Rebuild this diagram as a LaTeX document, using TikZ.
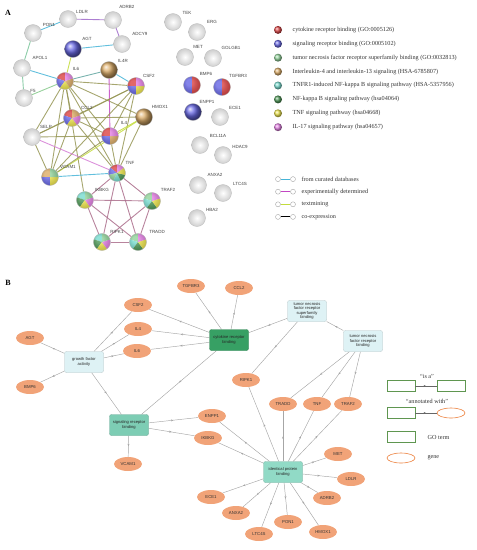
\documentclass[tikz,border=0pt]{standalone}
\usepackage{fontspec}
\setmainfont{Liberation Serif}
\setsansfont{Liberation Sans}
\usetikzlibrary{shapes.geometric,arrows.meta,backgrounds,decorations.markings}
\definecolor{gored}{RGB}{214,40,40}
\definecolor{goblue}{RGB}{80,80,225}
\definecolor{golgreen}{RGB}{130,205,140}
\definecolor{gotan}{RGB}{215,160,80}
\definecolor{gocyan}{RGB}{100,215,200}
\definecolor{godgreen}{RGB}{50,135,60}
\definecolor{goyellow}{RGB}{235,225,50}
\definecolor{gopink}{RGB}{225,110,225}
\definecolor{evcur}{RGB}{70,180,215}
\definecolor{evexp}{RGB}{195,70,195}
\definecolor{evtxt}{RGB}{195,220,60}
\definecolor{evolive}{RGB}{150,150,85}
\definecolor{genefill}{RGB}{241,163,120}
\definecolor{geneline}{RGB}{236,128,60}
\definecolor{termlight}{RGB}{222,242,245}
\definecolor{termdark}{RGB}{55,160,100}
\definecolor{termteal}{RGB}{125,205,180}
\definecolor{termmint}{RGB}{145,218,198}
\definecolor{legbox}{RGB}{95,150,80}

\tikzset{
  sph/.style={circle, minimum size=17pt, inner sep=0pt},
  gball/.style={sph, shading=radial, inner color=white, outer color=gray!38, draw=gray!55, line width=0.3pt},
  cball/.style={sph, shading=ball, ball color=#1!85!white, draw=gray!60, line width=0.3pt},
  slbl/.style={font=\sffamily\fontsize{4.5}{5}\selectfont, text=black!75},
  sedge/.style={line width=0.9pt, draw=#1, opacity=0.85},
  gene/.style={ellipse, fill=genefill, minimum width=28pt, minimum height=14pt, inner sep=0pt,
    font=\sffamily\fontsize{4.3}{5}\selectfont, text=black!80},
  term/.style={rectangle, rounded corners=2pt, fill=#1, draw=#1!80!black, line width=0.3pt,
    minimum width=39pt, minimum height=21pt, inner sep=0pt, align=center,
    font=\sffamily\fontsize{4.1}{4.6}\selectfont, text=black!85},
  gline/.style={draw=gray!70, line width=0.45pt},
  midarr/.style={postaction={decorate}, decoration={markings,
    mark=at position 0.5 with {\arrow{Stealth[length=2.4pt,width=2pt]}}}},
  legtxt/.style={anchor=west, font=\fontsize{6.2}{7}\selectfont, text=black!80},
  lbox/.style={rectangle, draw=legbox, line width=0.6pt, fill=white, minimum width=28pt, minimum height=11pt, inner sep=0pt},
  lell/.style={ellipse, draw=geneline, line width=0.6pt, fill=white, minimum width=28pt, minimum height=10pt, inner sep=0pt}
}

% coloured STRING sphere: name, position, number of colours, colours
\newcommand{\pieball}[4]{%
  \node[sph] (#1) at (#2) {};
  \foreach \c [count=\i] in {#4} {
    \pgfmathsetmacro{\angA}{90+360*(\i-1)/#3}
    \pgfmathsetmacro{\angB}{90+360*\i/#3}
    \fill[\c] (#1.center) -- ++(\angA:8.5pt) arc[start angle=\angA, end angle=\angB, radius=8.5pt] -- cycle;
  }
  \shade[ball color=white, opacity=0.3] (#1.center) circle (8.5pt);
  \draw[gray!60, line width=0.3pt] (#1.center) circle (8.5pt);
}

\begin{document}
\begin{tikzpicture}[x=1pt, y=-1pt]
\useasboundingbox (0,0) rectangle (477,550);

% Panel labels
\node[font=\bfseries\fontsize{8}{9}\selectfont] (pa) at (8,13) {A};
\node[font=\bfseries\fontsize{8}{9}\selectfont] (pb) at (8,283) {B};

% ---------------- A: STRING network ----------------
\node[gball] (pon1) at (33,33) {};
\node[gball] (ldlr) at (68,19) {};
\node[gball] (adrb2) at (113,20) {};
\node[gball] (adcy9) at (122,44) {};
\node[cball=goblue] (agt) at (73,49) {};
\node[gball] (apol1) at (22,68) {};
\pieball{il6}{65,81}{5}{gored,goblue,goyellow,gotan,gopink}
\node[cball=gotan] (il4r) at (109,70) {};
\pieball{csf2}{136,86}{4}{gored,goblue,goyellow,gopink}
\node[gball] (f5) at (24,98) {};
\pieball{ccl2}{72,118}{5}{gored,goblue,goyellow,gopink,gotan}
\node[cball=gotan] (hmox1) at (144,117) {};
\node[gball] (selp) at (32,137) {};
\pieball{il4}{110,136}{4}{gored,goblue,gotan,gopink}
\pieball{vcam1}{50,177}{4}{gotan,goblue,goyellow,golgreen}
\pieball{tnf}{117,173}{7}{gored,goblue,golgreen,gocyan,godgreen,goyellow,gopink}
\pieball{ikbkg}{85,200}{5}{gocyan,godgreen,goyellow,gopink,golgreen}
\pieball{traf2}{152,201}{5}{golgreen,gocyan,godgreen,goyellow,gopink}
\pieball{ripk1}{102,242}{5}{gocyan,godgreen,goyellow,gopink,golgreen}
\pieball{tradd}{138,242}{5}{golgreen,gocyan,godgreen,goyellow,gopink}

% isolated proteins
\node[gball] (tek) at (173,22) {};
\node[gball] (erg) at (197,32) {};
\node[gball] (met) at (185,57) {};
\node[gball] (golgb1) at (213,58) {};
\pieball{bmp6}{192,85}{2}{goblue,gored}
\pieball{tgfbr3}{222,87}{2}{goblue,gored}
\node[cball=goblue] (enpp1) at (193,112) {};
\node[gball] (ece1) at (220,117) {};
\node[gball] (bcl11a) at (200,145) {};
\node[gball] (hdac9) at (223,155) {};
\node[gball] (anxa2) at (198,185) {};
\node[gball] (ltc4s) at (223,193) {};
\node[gball] (hba2) at (197,218) {};

% sphere labels
\node[slbl] (pon1-t) at (49,25) {PON1};
\node[slbl] (ldlr-t) at (82,12) {LDLR};
\node[slbl] (adrb2-t) at (127,7) {ADRB2};
\node[slbl] (adcy9-t) at (140,34) {ADCY9};
\node[slbl] (agt-t) at (87,39) {AGT};
\node[slbl] (apol1-t) at (40,58) {APOL1};
\node[slbl] (il6-t) at (76,69) {IL6};
\node[slbl] (il4r-t) at (123,61) {IL4R};
\node[slbl] (csf2-t) at (149,76) {CSF2};
\node[slbl] (f5-t) at (33,91) {F5};
\node[slbl] (ccl2-t) at (87,108) {CCL2};
\node[slbl] (hmox1-t) at (160,107) {HMOX1};
\node[slbl] (selp-t) at (46,127) {SELP};
\node[slbl] (il4-t) at (124,123) {IL4};
\node[slbl] (vcam1-t) at (68,167) {VCAM1};
\node[slbl] (tnf-t) at (130,163) {TNF};
\node[slbl] (ikbkg-t) at (102,190) {IKBKG};
\node[slbl] (traf2-t) at (168,190) {TRAF2};
\node[slbl] (ripk1-t) at (117,232) {RIPK1};
\node[slbl] (tradd-t) at (157,232) {TRADD};
\node[slbl] (tek-t) at (187,13) {TEK};
\node[slbl] (erg-t) at (212,22) {ERG};
\node[slbl] (met-t) at (198,47) {MET};
\node[slbl] (golgb1-t) at (231,48) {GOLGB1};
\node[slbl] (bmp6-t) at (206,74) {BMP6};
\node[slbl] (tgfbr3-t) at (238,76) {TGFBR3};
\node[slbl] (enpp1-t) at (207,102) {ENPP1};
\node[slbl] (ece1-t) at (235,108) {ECE1};
\node[slbl] (bcl11a-t) at (218,136) {BCL11A};
\node[slbl] (hdac9-t) at (240,147) {HDAC9};
\node[slbl] (anxa2-t) at (215,175) {ANXA2};
\node[slbl] (ltc4s-t) at (240,184) {LTC4S};
\node[slbl] (hba2-t) at (212,210) {HBA2};

% interactions
\begin{scope}[on background layer]
\draw[sedge=evcur] (pon1) -- (ldlr);
\draw[sedge=evcur!60!evtxt] (pon1) -- (apol1);
\draw[sedge=evexp!70!evcur] (ldlr) -- (adrb2);
\draw[sedge=evexp!70!evcur] (adrb2) -- (adcy9);
\draw[sedge=evcur] (agt) -- (adcy9);
\draw[sedge=evtxt] (agt) -- (il6);
\draw[sedge=evcur!60!evtxt] (apol1) -- (f5);
\draw[sedge=evcur] (apol1) -- (il6);
\draw[sedge=evcur!50!evtxt] (il6) -- (f5);
\draw[sedge=evcur!60!evolive] (il6) -- (il4r);
\foreach \t in {csf2,ccl2,hmox1,il4,selp,vcam1,tnf,ikbkg}
  \draw[sedge=evolive] (il6) -- (\t);
\draw[sedge=evexp] (il4r) -- (il4);
\draw[sedge=evcur] (il4r) -- (csf2);
\foreach \t in {ccl2,il4,tnf,selp,vcam1}
  \draw[sedge=evolive] (csf2) -- (\t);
\foreach \t in {hmox1,il4,selp,vcam1,tnf}
  \draw[sedge=evolive] (ccl2) -- (\t);
\draw[sedge=evtxt] (hmox1) -- (il4);
\draw[sedge=evolive] (hmox1) -- (tnf);
\draw[sedge=evtxt] (hmox1) -- (vcam1);
\draw[sedge=evolive] (selp) -- (il4);
\draw[sedge=evolive] (selp) -- (vcam1);
\draw[sedge=evexp!70!white] (selp) -- (tnf);
\draw[sedge=evolive] (il4) -- (tnf);
\draw[sedge=evolive] (il4) -- (vcam1);
\draw[sedge=evcur] (vcam1) -- (tnf);
\foreach \t in {ikbkg,traf2,ripk1,tradd}
  \draw[sedge=evexp!50!evolive] (tnf) -- (\t);
\draw[sedge=evexp!50!evolive] (ikbkg) -- (traf2);
\draw[sedge=evexp!50!evolive] (ikbkg) -- (ripk1);
\draw[sedge=evexp!50!evolive] (ikbkg) -- (tradd);
\draw[sedge=evexp!50!evolive] (traf2) -- (ripk1);
\draw[sedge=evexp!50!evolive] (traf2) -- (tradd);
\draw[sedge=evexp!50!evolive] (ripk1) -- (tradd);
\end{scope}

% legend: functional enrichment colours
\foreach \col/\txt [count=\i] in {
  gored/{cytokine receptor binding (GO:0005126)},
  goblue/{signaling receptor binding (GO:0005102)},
  golgreen/{tumor necrosis factor receptor superfamily binding (GO:0032813)},
  gotan/{Interleukin-4 and interleukin-13 signaling (HSA-6785807)},
  gocyan/{TNFR1-induced NF-kappa B signaling pathway (HSA-5357956)},
  godgreen/{NF-kappa B signaling pathway (hsa04064)},
  goyellow/{TNF signaling pathway (hsa04668)},
  gopink/{IL-17 signaling pathway (hsa04657)}} {
  \node[circle, minimum size=8pt, inner sep=0pt, shading=ball, ball color=\col!85!white] (dot\i) at (278,{16+13.9*\i}) {};
  \node[legtxt] (dtxt\i) at (289,{16+13.9*\i}) {\txt};
}

% legend: evidence lines
\foreach \col/\txt [count=\i] in {
  evcur/{from curated databases},
  evexp/{experimentally determined},
  evtxt/{textmining},
  black/{co-expression}} {
  \node[circle, draw=gray!70, fill=white, minimum size=5pt, inner sep=0pt, line width=0.4pt] (ea\i) at (278,{166.5+12.6*\i}) {};
  \node[circle, draw=gray!70, fill=white, minimum size=5pt, inner sep=0pt, line width=0.4pt] (eb\i) at (293,{166.5+12.6*\i}) {};
  \draw[\col, line width=0.9pt] (ea\i) -- (eb\i);
  \node[legtxt] (etxt\i) at (298,{166.5+12.6*\i}) {\txt};
}

% ---------------- B: GO term network ----------------
\node[term=termlight] (t-gfa) at (84,362) {growth factor\\activity};
\node[term=termdark] (t-crb) at (229,340) {cytokine receptor\\binding};
\node[term=termlight] (t-tnfsf) at (307,311) {tumor necrosis\\factor receptor\\superfamily\\binding};
\node[term=termlight] (t-tnfr) at (363,341) {tumor necrosis\\factor receptor\\binding};
\node[term=termteal] (t-srb) at (129,425) {signaling receptor\\binding};
\node[term=termmint] (t-ipb) at (283,472) {identical protein\\binding};

\node[gene] (g-tgfbr3) at (191,286) {TGFBR3};
\node[gene] (g-ccl2) at (239,288) {CCL2};
\node[gene] (g-csf2) at (138,305) {CSF2};
\node[gene] (g-il4) at (138,329) {IL4};
\node[gene] (g-il6) at (137,351) {IL6};
\node[gene] (g-agt) at (30,338) {AGT};
\node[gene] (g-bmp6) at (30,387) {BMP6};
\node[gene] (g-ripk1) at (246,380) {RIPK1};
\node[gene] (g-tradd) at (283,404) {TRADD};
\node[gene] (g-tnf) at (317,404) {TNF};
\node[gene] (g-traf2) at (348,404) {TRAF2};
\node[gene] (g-enpp1) at (212,416) {ENPP1};
\node[gene] (g-ikbkg) at (208,438) {IKBKG};
\node[gene] (g-vcam1) at (128,464) {VCAM1};
\node[gene] (g-met) at (338,454) {MET};
\node[gene] (g-ldlr) at (351,479) {LDLR};
\node[gene] (g-adrb2) at (327,498) {ADRB2};
\node[gene] (g-ece1) at (211,497) {ECE1};
\node[gene] (g-anxa2) at (236,513) {ANXA2};
\node[gene] (g-pon1) at (288,522) {PON1};
\node[gene] (g-ltc4s) at (259,534) {LTC4S};
\node[gene] (g-hmox1) at (323,532) {HMOX1};

\begin{scope}[on background layer]
% is a
\draw[gline, midarr] (t-crb) -- (t-srb);
\draw[gline, midarr] (t-gfa) -- (t-srb);
\draw[gline, midarr] (t-tnfsf) -- (t-crb);
\draw[gline, midarr] (t-tnfr) -- (t-tnfsf);
% annotated with
\foreach \g in {agt,bmp6,csf2,il4,il6}
  \draw[gline, midarr] (t-gfa) -- (g-\g);
\foreach \g in {tgfbr3,ccl2,csf2,il4,il6}
  \draw[gline, midarr] (t-crb) -- (g-\g);
\draw[gline, midarr] (t-tnfsf) -- (g-ripk1);
\foreach \g in {tradd,tnf,traf2}
  \draw[gline, midarr] (t-tnfr) -- (g-\g);
\foreach \g in {enpp1,ikbkg,vcam1}
  \draw[gline, midarr] (t-srb) -- (g-\g);
\foreach \g in {ripk1,tradd,tnf,traf2,enpp1,ikbkg,met,ldlr,adrb2,ece1,anxa2,pon1,ltc4s,hmox1}
  \draw[gline, midarr] (t-ipb) -- (g-\g);
\end{scope}

% legend B
\node[legtxt, anchor=center] (isa-t) at (427,376) {“is a”};
\node[lbox] (isa-a) at (401,386) {};
\node[lbox] (isa-b) at (451,386) {};
\draw[draw=black!60, line width=1pt, midarr] (isa-a) -- (isa-b);
\node[legtxt, anchor=center] (ann-t) at (427,401) {“annotated with”};
\node[lbox] (ann-a) at (401,413) {};
\node[lell] (ann-b) at (451,413) {};
\draw[draw=black!60, line width=1pt, midarr] (ann-a) -- (ann-b);
\node[lbox] (go-box) at (401,437) {};
\node[legtxt] (go-t) at (424,437) {GO term};
\node[lell] (gene-ell) at (401,458) {};
\node[legtxt] (gene-t) at (424,458) {gene};

\end{tikzpicture}
\end{document}
